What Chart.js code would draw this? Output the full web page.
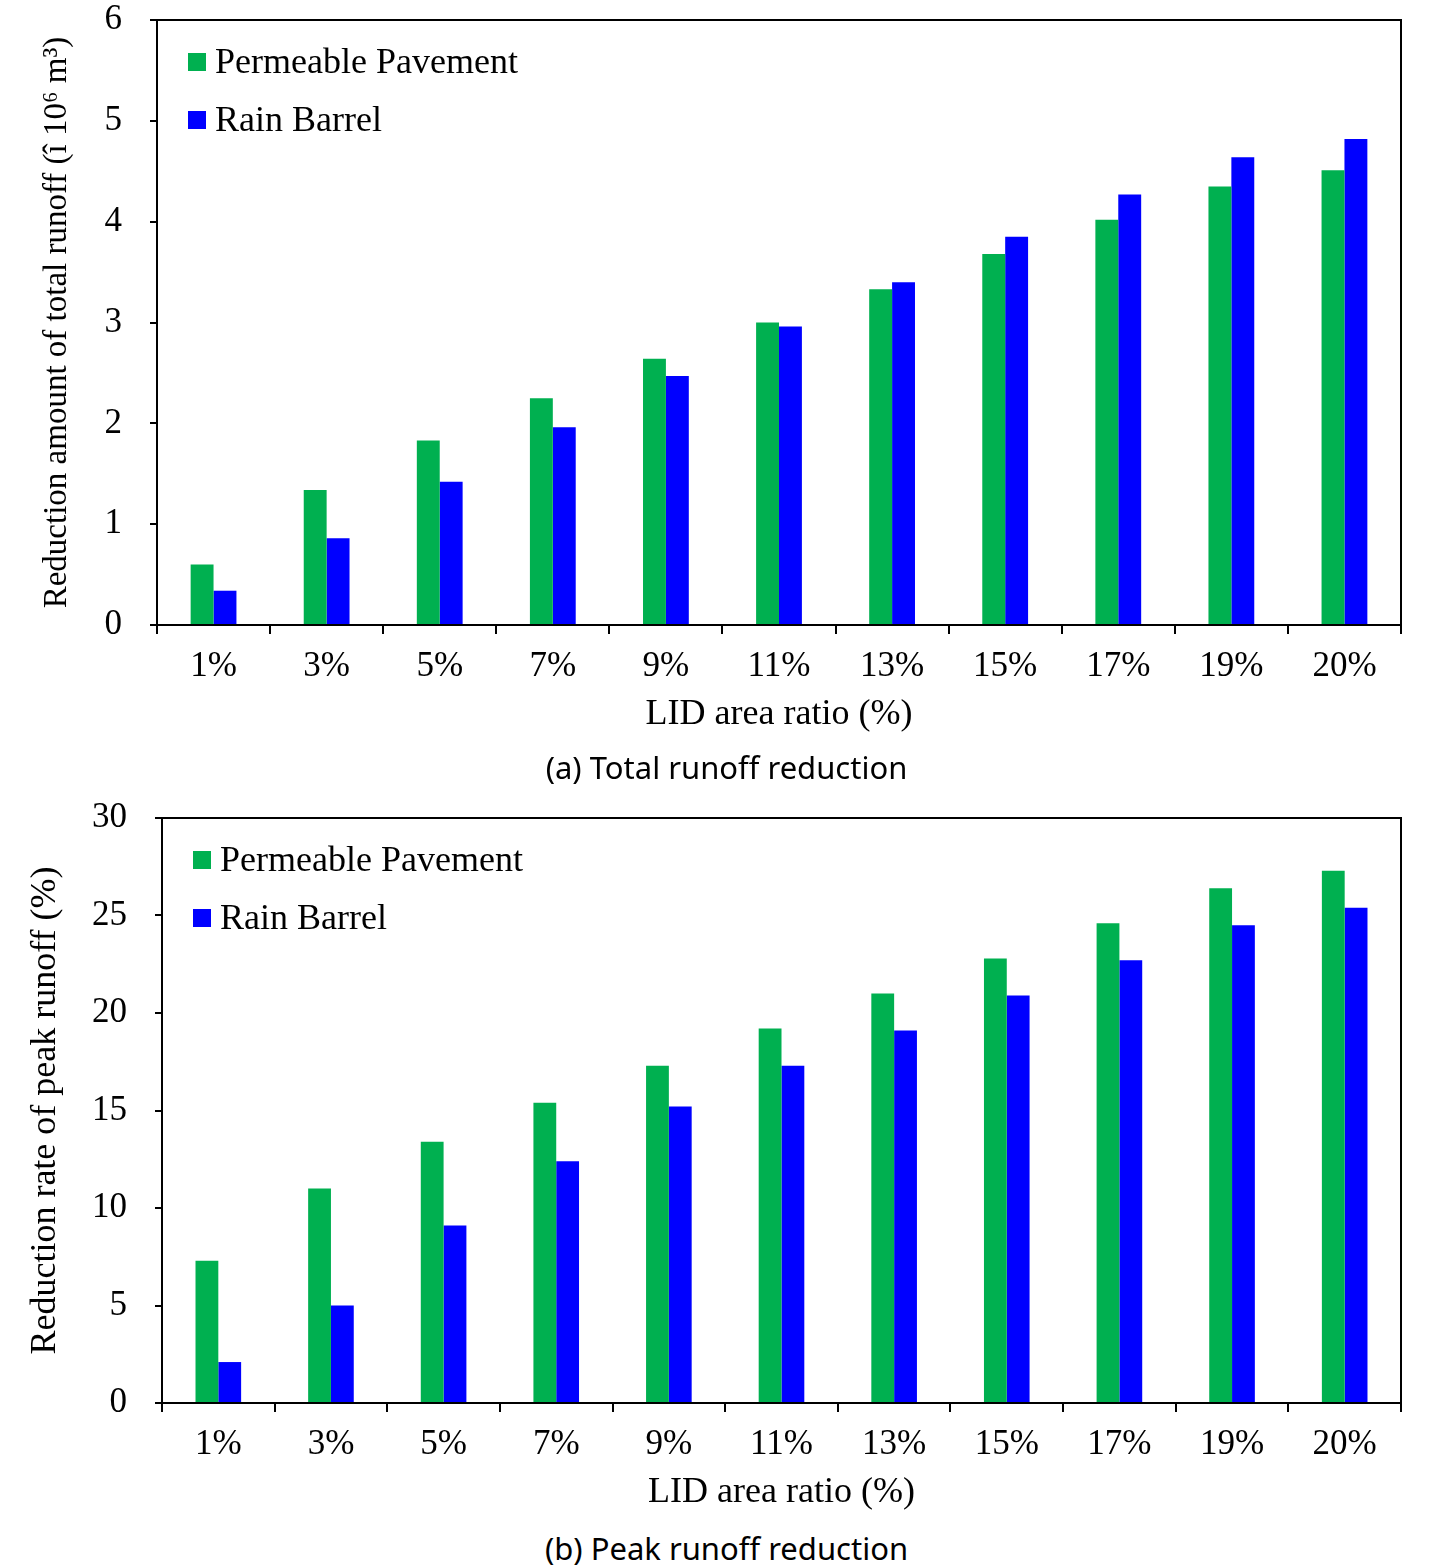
<!DOCTYPE html>
<html>
<head>
<meta charset="utf-8">
<script src="https://cdn.jsdelivr.net/npm/chart.js@4.4.1/dist/chart.umd.min.js"></script>
<style>
  html,body{margin:0;padding:0;background:#fff;}
  body{width:1453px;height:1567px;position:relative;overflow:hidden;}
  canvas{position:absolute;left:0;}
  #cTotal{top:0;}
  #cPeak{top:780px;}
  .cap{position:absolute;left:0;width:1453px;text-align:center;font-family:"Noto Sans",sans-serif;font-size:31px;color:#000;line-height:1;}
  #capA{top:752px;}
  #capB{top:1533px;}
</style>
</head>
<body>
<canvas id="cTotal" width="1453" height="745"></canvas>
<canvas id="cPeak" width="1453" height="743"></canvas>
<div class="cap" id="capA">(a) Total runoff reduction</div>
<div class="cap" id="capB">(b) Peak runoff reduction</div>
<script>
// ---- data ----
const categories = ['1%','3%','5%','7%','9%','11%','13%','15%','17%','19%','20%'];
const seriesNames = ['Permeable Pavement','Rain Barrel'];
const totalPermeable  = [0.60,1.34,1.83,2.25,2.64,3.00,3.33,3.68,4.02,4.35,4.51];
const totalRainBarrel = [0.34,0.86,1.42,1.96,2.47,2.96,3.40,3.85,4.27,4.64,4.82];
const peakPermeable   = [7.3,11.0,13.4,15.4,17.3,19.2,21.0,22.8,24.6,26.4,27.3];
const peakRainBarrel  = [2.1,5.0,9.1,12.4,15.2,17.3,19.1,20.9,22.7,24.5,25.4];
const totalTicks = [0,1,2,3,4,5,6];
const peakTicks  = [0,5,10,15,20,25,30];

const GREEN='#00B050', BLUE='#0000FF', SERIF='"Liberation Serif","Times New Roman",serif';

// frame round the plot area + legend inside it
const frame={id:'frame',afterDraw(c){
  const a=c.chartArea,x=c.ctx;
  x.save();x.strokeStyle='#000';x.lineWidth=2;x.strokeRect(a.left,a.top,a.right-a.left,a.bottom-a.top);
  x.font='36px '+SERIF;x.textBaseline='middle';x.fillStyle='#000';
  c.data.datasets.forEach((d,i)=>{
    const cy=a.top+42+i*58;
    x.fillStyle=d.backgroundColor;x.fillRect(a.left+31,cy-9,18,18);
    x.fillStyle='#000';x.fillText(d.label,a.left+58,cy+2);
  });
  x.restore();
}};

function makeChart(id,o){
  return new Chart(document.getElementById(id),{
    type:'bar',
    data:{labels:categories,datasets:[
      {label:seriesNames[0],data:o.a,backgroundColor:GREEN},
      {label:seriesNames[1],data:o.b,backgroundColor:BLUE}]},
    options:{
      responsive:false,animation:false,
      layout:{padding:{top:o.top,right:52,left:0,bottom:0}},
      plugins:{legend:{display:false},tooltip:{enabled:false}},
      datasets:{bar:{categoryPercentage:0.405,barPercentage:1.0}},
      scales:{
        x:{grid:{drawOnChartArea:false,drawTicks:true,tickLength:9,color:'#000',lineWidth:2,offset:true},
           border:{display:true,color:'#000',width:2},
           ticks:{color:'#000',font:{family:SERIF,size:35},padding:12,maxRotation:0},
           title:{display:true,text:'LID area ratio (%)',color:'#000',font:{family:SERIF,size:36},padding:{top:0,bottom:9}},
           afterFit:s=>{s.height=o.xh;s.paddingLeft=0;s.paddingRight=0;}},
        y:{min:o.ticks[0],max:o.ticks[o.ticks.length-1],
           afterBuildTicks:s=>{s.ticks=o.ticks.map(v=>({value:v}));},
           grid:{drawOnChartArea:false,drawTicks:true,tickLength:7,color:'#000',lineWidth:2},
           border:{display:true,color:'#000',width:2},
           ticks:{color:'#000',font:{family:SERIF,size:35},padding:28},
           title:{display:true,text:o.ytitle,color:'#000',font:{family:SERIF,size:o.ysize},padding:{top:o.ypad,bottom:0}},
           afterFit:s=>{s.width=o.yw;s.paddingTop=0;s.paddingBottom=0;}}
      }
    },
    plugins:[frame]
  });
}

makeChart('cTotal',{a:totalPermeable,b:totalRainBarrel,ticks:totalTicks,top:20,xh:120,yw:157,
  ytitle:'Reduction amount of total runoff (î 10\u2076 m\u00B3)',ysize:33,ypad:38});
makeChart('cPeak',{a:peakPermeable,b:peakRainBarrel,ticks:peakTicks,top:38,xh:120,yw:162,
  ytitle:'Reduction rate of peak runoff (%)',ysize:36,ypad:24});
</script>
</body>
</html>
